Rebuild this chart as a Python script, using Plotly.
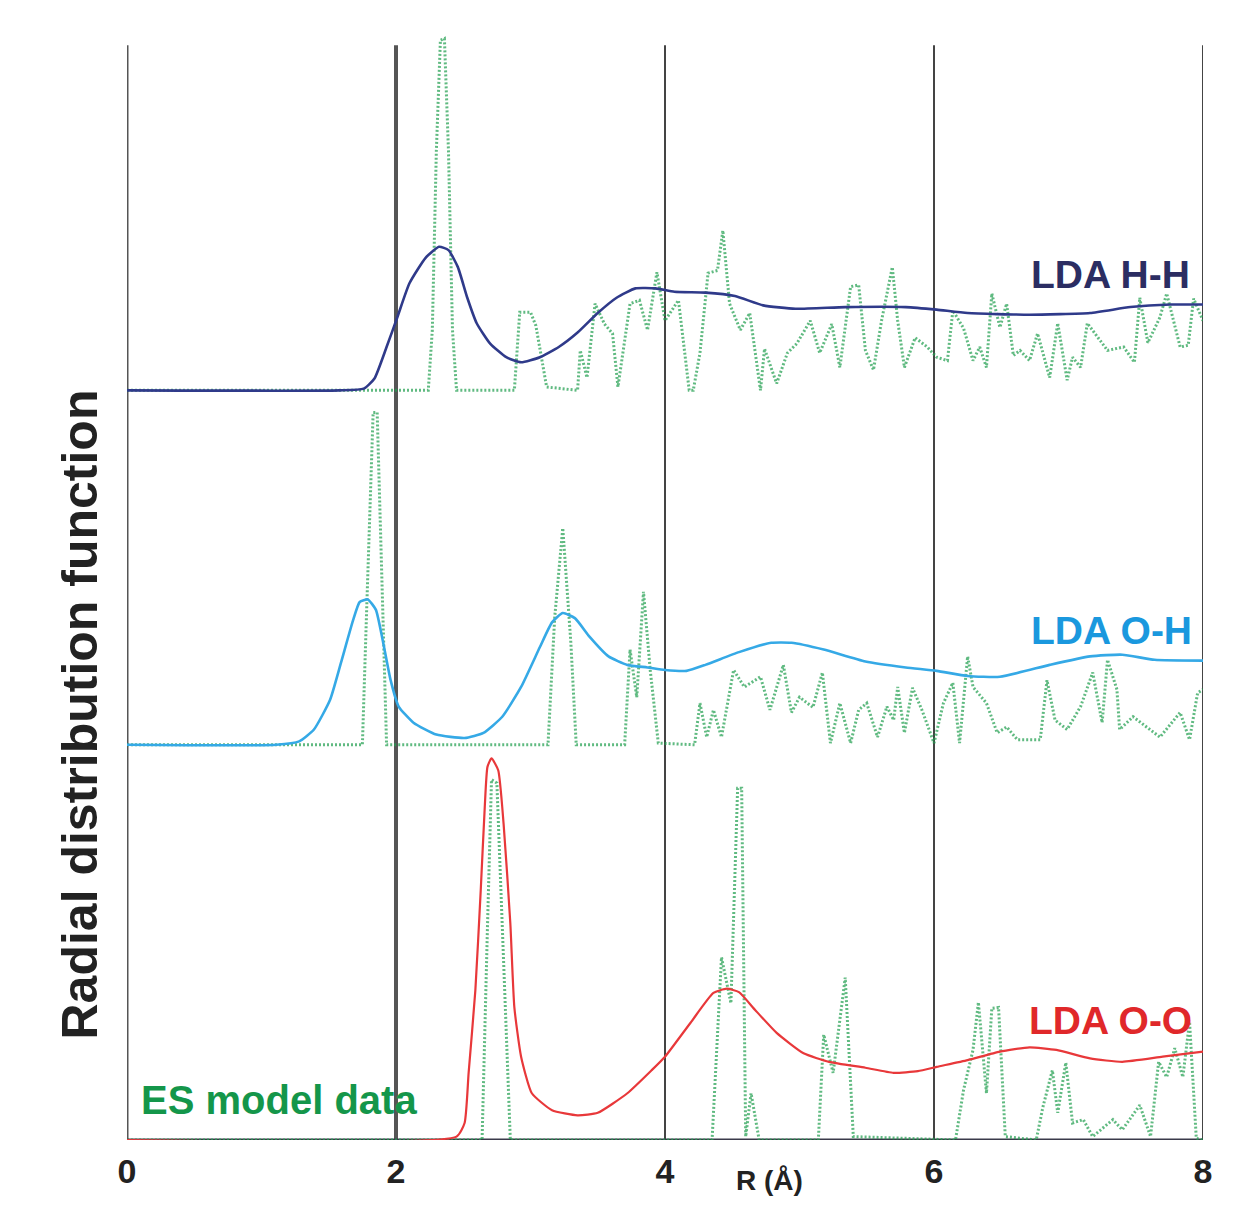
import plotly.graph_objects as go

# ---------------- data (r in Angstrom, g(r)) ----------------
# LDA ab-initio curves
r_hh = [0, 1.58, 1.76, 1.84, 1.93, 2.01, 2.10, 2.22, 2.32, 2.39, 2.46, 2.53, 2.60, 2.70, 2.82, 2.93,
        3.07, 3.21, 3.35, 3.50, 3.64, 3.78, 3.93, 4.07, 4.30, 4.52, 4.73, 4.97, 5.34, 5.79, 6.02,
        6.25, 6.71, 7.16, 7.46, 7.76, 8.0]
g_hh = [0, 0, 0.02, 0.14, 0.51, 0.86, 1.26, 1.56, 1.69, 1.65, 1.45, 1.09, 0.79, 0.55, 0.39, 0.33,
        0.39, 0.51, 0.68, 0.91, 1.09, 1.20, 1.20, 1.16, 1.15, 1.11, 1.00, 0.96, 0.98, 0.98, 0.95,
        0.91, 0.89, 0.91, 0.98, 1.01, 1.01]

r_oh = [0, 1.11, 1.28, 1.39, 1.51, 1.59, 1.68, 1.73, 1.79, 1.85, 1.90, 1.96, 2.02, 2.13, 2.30, 2.51,
        2.65, 2.79, 2.93, 3.07, 3.16, 3.24, 3.33, 3.44, 3.58, 3.72, 3.87, 4.0, 4.16, 4.30, 4.55,
        4.79, 4.94, 5.18, 5.49, 5.79, 6.02, 6.25, 6.49, 6.86, 7.16, 7.40, 7.64, 8.0]
g_oh = [0, 0, 0.04, 0.18, 0.53, 0.96, 1.46, 1.68, 1.71, 1.59, 1.24, 0.76, 0.45, 0.26, 0.12, 0.08,
        0.14, 0.33, 0.68, 1.15, 1.44, 1.55, 1.49, 1.27, 1.04, 0.94, 0.91, 0.88, 0.87, 0.94, 1.09,
        1.20, 1.20, 1.12, 0.98, 0.91, 0.87, 0.81, 0.80, 0.94, 1.04, 1.06, 1.00, 0.99]

r_oo = [0, 2.45, 2.51, 2.54, 2.59, 2.63, 2.66, 2.68, 2.71, 2.76, 2.80, 2.85, 2.88, 2.93, 3.01, 3.16,
        3.35, 3.50, 3.72, 3.90, 4.0, 4.19, 4.36, 4.46, 4.55, 4.67, 4.83, 5.03, 5.22, 5.49, 5.70,
        5.88, 6.02, 6.25, 6.49, 6.71, 6.91, 7.16, 7.40, 7.70, 8.0]
g_oo = [0, 0.04, 0.20, 0.79, 1.76, 2.94, 3.92, 4.39, 4.49, 4.35, 3.72, 2.55, 1.56, 0.98, 0.55, 0.35,
        0.29, 0.32, 0.55, 0.82, 0.98, 1.38, 1.73, 1.78, 1.74, 1.53, 1.26, 1.02, 0.92, 0.85, 0.79,
        0.81, 0.86, 0.94, 1.04, 1.09, 1.06, 0.96, 0.92, 0.98, 1.04]

# ES model data
es_r_hh = [0, 2.24, 2.27, 2.30, 2.33, 2.36, 2.39, 2.42, 2.45, 2.88, 2.92, 3.00, 3.04, 3.12, 3.35, 3.37,
           3.42, 3.48, 3.55, 3.61, 3.65, 3.74, 3.81, 3.87, 3.94, 4.00, 4.10, 4.18, 4.21, 4.26, 4.32,
           4.39, 4.43, 4.48, 4.56, 4.63, 4.71, 4.74, 4.83, 4.91, 4.98, 5.08, 5.15, 5.24, 5.30, 5.38,
           5.44, 5.49, 5.55, 5.61, 5.69, 5.73, 5.78, 5.86, 5.95, 6.02, 6.10, 6.14, 6.22, 6.29, 6.34,
           6.39, 6.43, 6.49, 6.54, 6.59, 6.64, 6.71, 6.77, 6.86, 6.92, 6.99, 7.03, 7.09, 7.14, 7.29,
           7.41, 7.49, 7.53, 7.59, 7.68, 7.73, 7.83, 7.89, 7.93, 8.00]
es_g_hh = [0, 0, 0.71, 2.82, 4.12, 4.14, 2.82, 0.71, 0, 0, 0.92, 0.92, 0.76, 0.04, 0, 0.47,
           0.15, 1.02, 0.78, 0.67, 0.04, 1.02, 1.06, 0.71, 1.39, 0.82, 1.06, 0, 0, 0.44, 1.38,
           1.41, 1.88, 1.02, 0.71, 0.91, 0, 0.49, 0.08, 0.44, 0.55, 0.82, 0.44, 0.78, 0.27, 1.22,
           1.24, 0.47, 0.24, 0.82, 1.45, 0.82, 0.27, 0.62, 0.51, 0.39, 0.35, 0.94, 0.73, 0.35, 0.51,
           0.27, 1.14, 0.74, 1.02, 0.41, 0.47, 0.35, 0.67, 0.15, 0.79, 0.12, 0.39, 0.27, 0.79, 0.47,
           0.51, 0.33, 1.09, 0.56, 0.86, 1.14, 0.51, 0.53, 1.08, 0.82]

es_r_oh = [0, 1.75, 1.78, 1.83, 1.86, 1.90, 1.93, 3.13, 3.18, 3.24, 3.30, 3.34, 3.70, 3.74, 3.79, 3.84,
           3.89, 3.95, 4.22, 4.26, 4.31, 4.36, 4.42, 4.51, 4.59, 4.71, 4.78, 4.88, 4.94, 5.00, 5.10,
           5.17, 5.23, 5.30, 5.38, 5.44, 5.50, 5.58, 5.65, 5.70, 5.73, 5.78, 5.84, 5.91, 5.96, 6.00,
           6.07, 6.14, 6.19, 6.25, 6.29, 6.39, 6.47, 6.54, 6.62, 6.79, 6.84, 6.90, 6.99, 7.09, 7.18,
           7.25, 7.29, 7.36, 7.38, 7.48, 7.58, 7.68, 7.83, 7.90, 7.96, 8.00]
es_g_oh = [0, 0, 1.5, 3.91, 3.91, 1.5, 0, 0, 1.5, 2.55, 1.2, 0, 0, 1.12, 0.56, 1.80,
           0.88, 0.02, 0, 0.49, 0.09, 0.41, 0.09, 0.88, 0.68, 0.80, 0.41, 0.94, 0.38, 0.56, 0.44,
           0.85, 0.02, 0.49, 0.02, 0.41, 0.49, 0.09, 0.45, 0.29, 0.68, 0.14, 0.67, 0.41, 0.18, 0.02,
           0.49, 0.73, 0.02, 1.04, 0.68, 0.49, 0.14, 0.21, 0.06, 0.06, 0.76, 0.29, 0.18, 0.45, 0.85,
           0.26, 1.00, 0.65, 0.18, 0.33, 0.21, 0.09, 0.38, 0.06, 0.61, 0.65]

es_r_oo = [0, 2.64, 2.68, 2.71, 2.75, 2.80, 2.85, 4.35, 4.42, 4.49, 4.54, 4.57, 4.60, 4.64, 4.70, 5.14,
           5.18, 5.25, 5.34, 5.40, 6.16, 6.22, 6.29, 6.33, 6.39, 6.43, 6.48, 6.53, 6.76, 6.81, 6.88,
           6.92, 6.98, 7.03, 7.11, 7.18, 7.33, 7.40, 7.53, 7.61, 7.67, 7.73, 7.79, 7.85, 7.90, 7.95, 8.00]
es_g_oo = [0, 0, 2.5, 4.24, 4.20, 2.0, 0, 0, 2.15, 1.61, 4.14, 4.14, 0.04, 0.55, 0, 0,
           1.24, 0.79, 1.91, 0.04, 0, 0.59, 1.06, 1.62, 0.55, 1.55, 1.56, 0.04, 0, 0.39, 0.82,
           0.32, 0.91, 0.20, 0.24, 0.04, 0.24, 0.12, 0.41, 0.04, 0.92, 0.74, 1.08, 0.74, 1.39, 0.02, 0]

# vertical offsets of the stacked curves
off_oo, off_oh, off_hh = 0.0, 4.65, 8.82

grid_x = [2, 4, 6, 8]
tick_vals = [0, 2, 4, 6, 8]
tick_text = ["0", "2", "4", "6", "8"]

Y_TOP = 13.06
GRID_TOP = 12.88

fig = go.Figure()

es_line = dict(color="rgba(35,160,80,0.72)", width=3, dash="2px,2px")

for rr, gg, off in [(es_r_hh, es_g_hh, off_hh), (es_r_oh, es_g_oh, off_oh), (es_r_oo, es_g_oo, off_oo)]:
    fig.add_trace(go.Scatter(x=rr, y=[v + off for v in gg], mode="lines", line=es_line,
                             hoverinfo="skip", showlegend=False))

fig.add_trace(go.Scatter(x=r_hh, y=[v + off_hh for v in g_hh], mode="lines",
                         line=dict(color="#2f3a8a", width=2.6, shape="spline", smoothing=0.5),
                         showlegend=False))
fig.add_trace(go.Scatter(x=r_oh, y=[v + off_oh for v in g_oh], mode="lines",
                         line=dict(color="#35a9e6", width=2.6, shape="spline", smoothing=0.5),
                         showlegend=False))
fig.add_trace(go.Scatter(x=r_oo, y=[v + off_oo for v in g_oo], mode="lines",
                         line=dict(color="#e8383a", width=2.2, shape="spline", smoothing=0.5),
                         showlegend=False))

# frame / grid lines
shapes = [dict(type="line", xref="x", yref="y", x0=0, x1=0, y0=0, y1=GRID_TOP,
               line=dict(color="#555555", width=3), layer="below")]
for gx in grid_x:
    shapes.append(dict(type="line", xref="x", yref="y", x0=gx, x1=gx, y0=0, y1=GRID_TOP,
                       line=dict(color="#555555" if gx == 2 else "#444444", width=4 if gx == 2 else 2),
                       layer="below"))
shapes.append(dict(type="line", xref="x", yref="y", x0=0, x1=8, y0=0, y1=0,
                   line=dict(color="#3a3a4a", width=3), layer="below"))

FONT = "Liberation Sans, Arial, sans-serif"
annotations = [
    dict(x=7.92, y=10.18, xref="x", yref="y", text="LDA H-H", showarrow=False, xanchor="right",
         yanchor="middle", font=dict(family=FONT, size=39, color="#2b2d62", weight="bold")),
    dict(x=7.93, y=6.0, xref="x", yref="y", text="LDA O-H", showarrow=False, xanchor="right",
         yanchor="middle", font=dict(family=FONT, size=39, color="#1a98de", weight="bold")),
    dict(x=7.93, y=1.41, xref="x", yref="y", text="LDA O-O", showarrow=False, xanchor="right",
         yanchor="middle", font=dict(family=FONT, size=39, color="#e0282a", weight="bold")),
    dict(x=0.09, y=0.47, xref="x", yref="y", text="ES model data", showarrow=False, xanchor="left",
         yanchor="middle", font=dict(family=FONT, size=40, color="#14964a", weight="bold")),
    dict(x=0.5975, y=-0.021, xref="paper", yref="paper", text="R (Å)", showarrow=False,
         xanchor="center", yanchor="top",
         font=dict(family=FONT, size=28, color="#222222", weight="bold")),
    dict(x=-0.044, y=0.383, xref="paper", yref="paper", text="Radial distribution function",
         showarrow=False, textangle=-90, xanchor="center", yanchor="middle",
         font=dict(family=FONT, size=50, color="#222222", weight="bold")),
]

fig.update_layout(
    width=1241, height=1199,
    margin=dict(l=119, r=46, t=22, b=67),
    plot_bgcolor="white", paper_bgcolor="white",
    shapes=shapes, annotations=annotations,
    xaxis=dict(range=[0, 8], showgrid=False, zeroline=False, showline=False,
               tickvals=tick_vals, ticktext=tick_text, ticks="", ticklabelstandoff=8,
               tickfont=dict(family=FONT, size=34, color="#222222", weight="bold")),
    yaxis=dict(range=[0, Y_TOP], visible=False, showgrid=False, zeroline=False),
)

fig.write_html("out.html")
